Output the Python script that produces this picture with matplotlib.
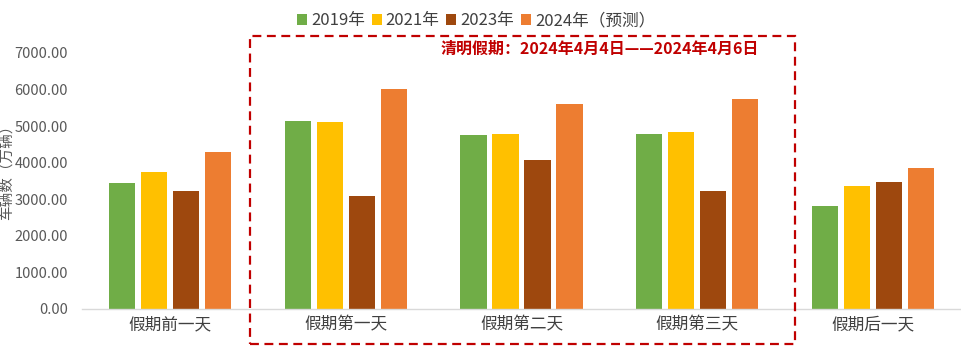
import matplotlib
matplotlib.use("Agg")
import matplotlib.pyplot as plt
import matplotlib.patches as mpatches
import numpy as np

plt.rcParams['font.family'] = ['Noto Sans CJK SC', 'DejaVu Sans']

categories = ["假期前一天", "假期第一天", "假期第二天", "假期第三天", "假期后一天"]
series_names = ["2019年", "2021年", "2023年", "2024年（预测）"]
v2019 = [3446, 5138, 4756, 4783, 2819]
v2021 = [3746, 5110, 4783, 4838, 3365]
v2023 = [3228, 3092, 4074, 3228, 3474]
v2024 = [4292, 6011, 5601, 5738, 3856]
colors = ["#70AD47", "#FFC000", "#9E480E", "#ED7D31"]
yticks = [0, 1000, 2000, 3000, 4000, 5000, 6000, 7000]
note = "清明假期：2024年4月4日——2024年4月6日"

fig = plt.figure(figsize=(9.61, 3.52), dpi=100)
ax = fig.add_axes([82/961, 43/352, 1 - 82/961, (309-53)/352])

x = np.arange(len(categories))
width = 0.148
pitch = 0.182
handles = []
for i, (vals, c, name) in enumerate(zip([v2019, v2021, v2023, v2024], colors, series_names)):
    b = ax.bar(x + (i - 1.5) * pitch, vals, width, color=c, label=name)
    handles.append(b)

ax.set_xlim(-0.5, len(categories) - 0.5)
ax.set_ylim(0, 7000)
ax.set_yticks(yticks)
ax.set_yticklabels([f"{v:.2f}" for v in yticks], color="#595959", fontsize=10.5)
ax.set_xticks(x)
ax.set_xticklabels(categories, color="#404040", fontsize=12)
ax.tick_params(axis='y', length=0, pad=10)
ax.tick_params(axis='x', length=0, pad=5)
for s in ["top", "right", "left"]:
    ax.spines[s].set_visible(False)
ax.spines["bottom"].set_color("#D9D9D9")
ax.spines["bottom"].set_linewidth(1)

fig.legend(handles=handles, labels=series_names, loc="center", bbox_to_anchor=(476/961, 1 - 21/352),
           ncol=4, frameon=False, fontsize=12, handlelength=0.6, handleheight=0.6,
           handletextpad=0.25, columnspacing=0.4, labelcolor="#404040")

rect = mpatches.Rectangle((250/961, 1 - 344/352), (795-250)/961, (344-36)/352,
                          transform=fig.transFigure, fill=False, edgecolor="#C00000",
                          linewidth=1.6, linestyle=(0, (4, 2.5)), clip_on=False)
fig.add_artist(rect)

fig.text(600/961, 1 - 49/352, note, color="#C00000", fontsize=11.5, fontweight="bold",
         ha="center", va="center")

fig.text(8/961, 1 - 169/352, "车辆数（万辆）", rotation=90, ha="center", va="center",
         color="#595959", fontsize=10.5)

fig.savefig("out.png", dpi=100)
